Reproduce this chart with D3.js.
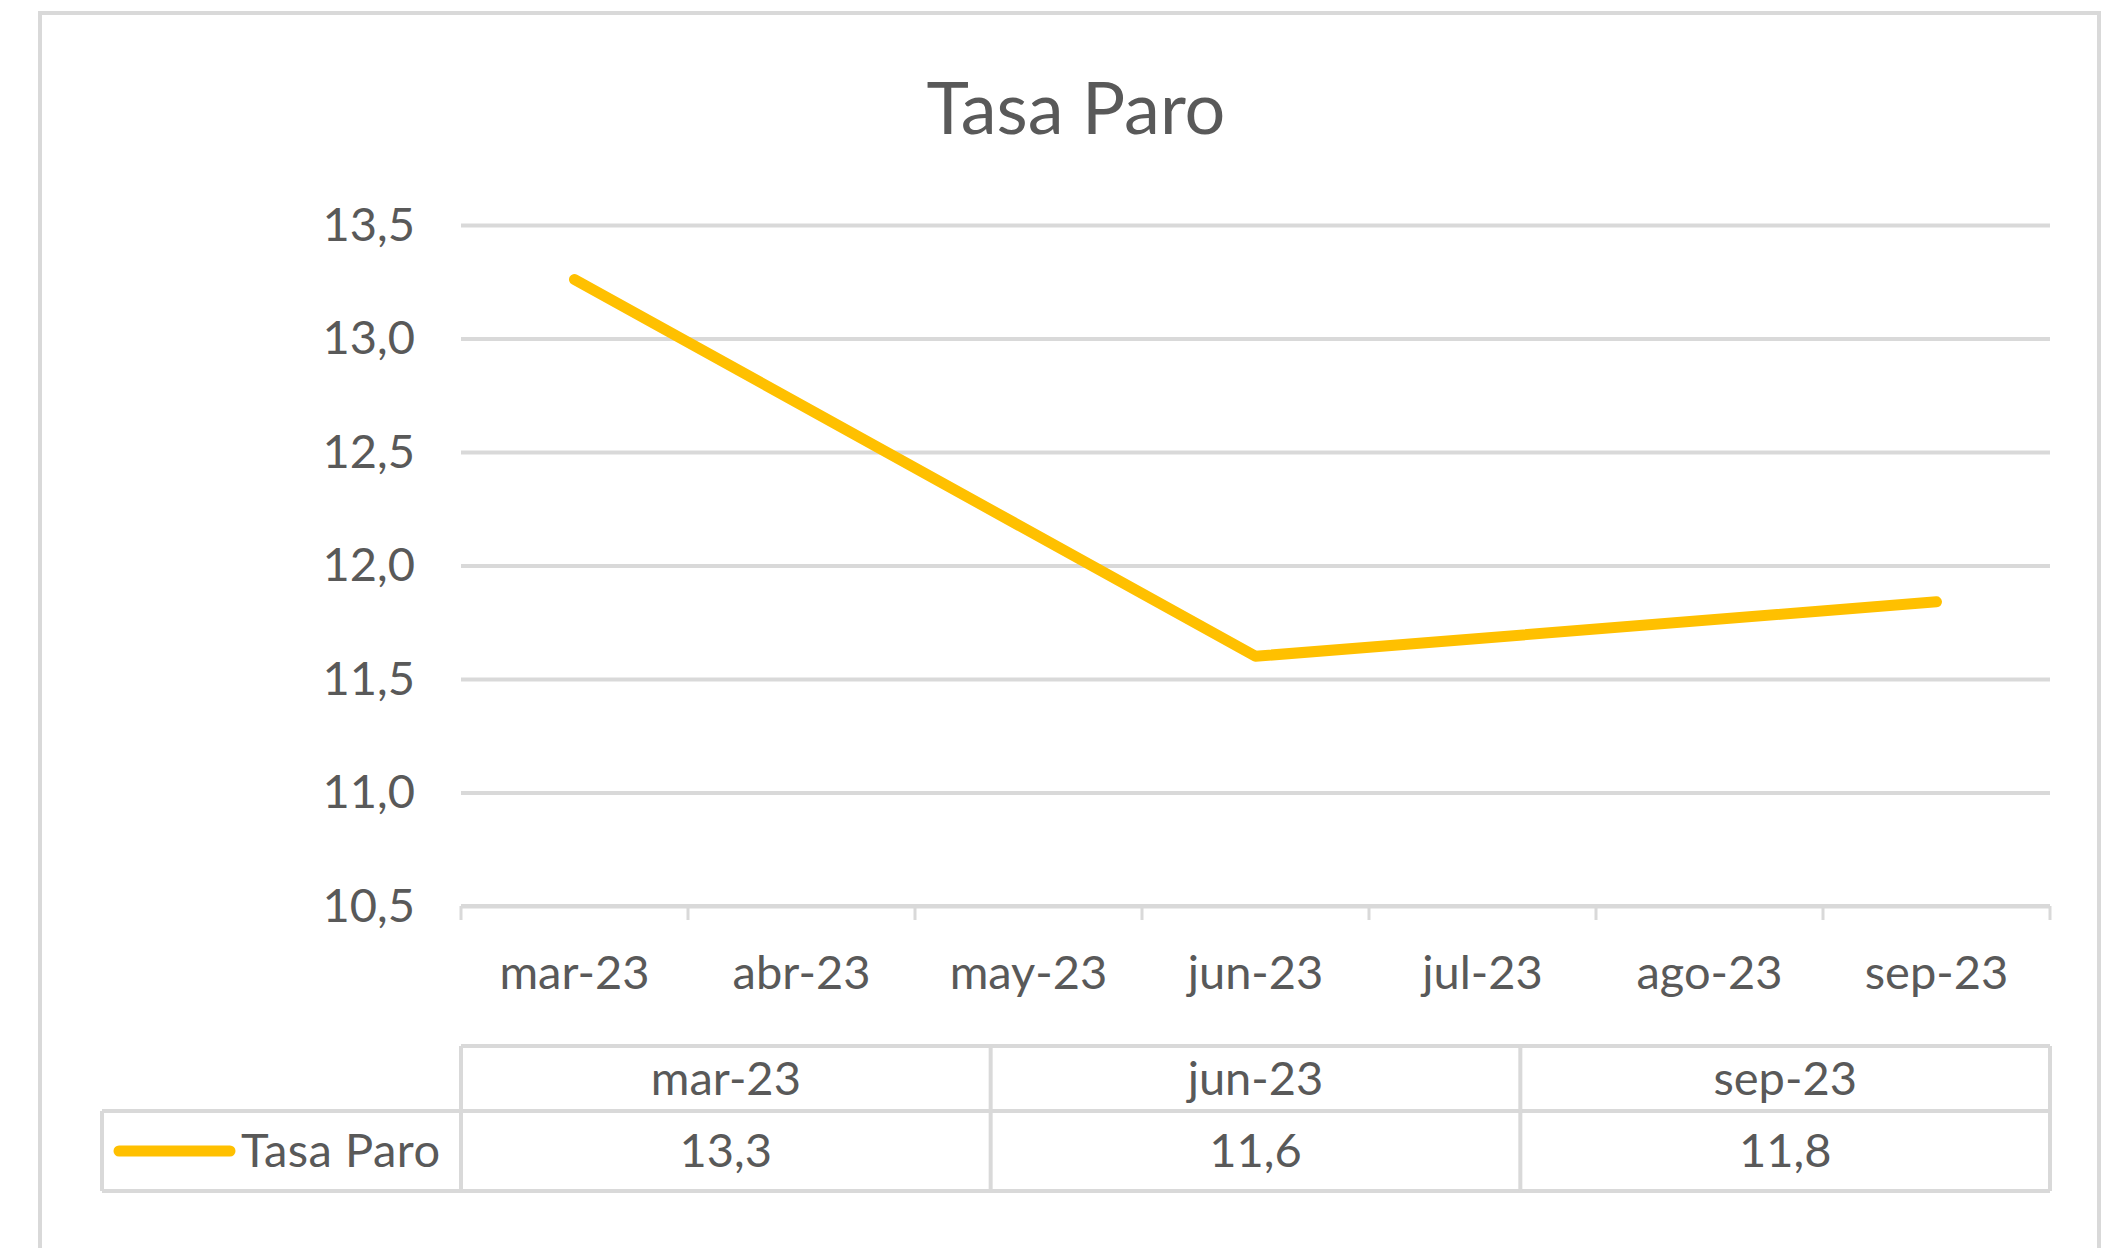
<!DOCTYPE html>
<html>
<head>
<meta charset="utf-8">
<script src="https://cdn.jsdelivr.net/npm/d3@7"></script>
<style>
  body { margin: 0; background: #fff; }
  svg { display: block; }
  text { font-family: Lato, "Open Sans", sans-serif; fill: #595959; }
</style>
</head>
<body>
<svg id="chart" width="2101" height="1248"></svg>
<script>
// chart data
const title = "Tasa Paro";
const seriesName = "Tasa Paro";
const months = ["mar-23", "abr-23", "may-23", "jun-23", "jul-23", "ago-23", "sep-23"];
const pointMonths = ["mar-23", "jun-23", "sep-23"];
const pointValues = [13.26, 11.6, 11.84];
const yTicks = [10.5, 11.0, 11.5, 12.0, 12.5, 13.0, 13.5];

const plot = { left: 461, right: 2050, top: 225, bottom: 906 };
const table = { left: 102, headTop: 1046, rowTop: 1111, bottom: 1191 };
const grey = "#d9d9d9";
const accent = "#ffc000";
const labelSize = "47px";

const es = d3.formatLocale({ decimal: ",", thousands: ".", grouping: [3], currency: ["", " €"] });
const fmt = es.format(".1f");

const data = pointMonths.map((m, i) => ({ month: m, value: pointValues[i] }));

const svg = d3.select("#chart");

// outer frame
svg.append("rect")
    .attr("x", 40).attr("y", 13)
    .attr("width", 2059).attr("height", 1260)
    .attr("fill", "#fff")
    .attr("stroke", grey)
    .attr("stroke-width", 4);

svg.append("text")
    .attr("x", 1076).attr("y", 134)
    .attr("text-anchor", "middle")
    .style("font-size", "72px")
    .text(title);

const x = d3.scaleBand()
    .domain(months)
    .range([plot.left, plot.right])
    .paddingInner(0).paddingOuter(0);

const y = d3.scaleLinear()
    .domain([10.5, 13.5])
    .range([plot.bottom, plot.top]);

// y axis with gridlines
const yAxis = svg.append("g")
    .attr("transform", `translate(${plot.left},0)`)
    .call(d3.axisLeft(y)
        .tickValues(yTicks)
        .tickFormat(fmt)
        .tickSize(-(plot.right - plot.left))
        .tickPadding(46));
yAxis.select(".domain").remove();
yAxis.selectAll(".tick line")
    .attr("stroke", grey)
    .attr("stroke-width", 4);
yAxis.selectAll(".tick text")
    .style("font-size", labelSize)
    .attr("fill", "#595959");

// x axis: labels centred in bands, ticks at band edges
const xAxis = svg.append("g")
    .attr("transform", `translate(0,${plot.bottom})`)
    .call(d3.axisBottom(x).tickSize(0).tickPadding(50));
xAxis.select(".domain")
    .attr("stroke", grey)
    .attr("stroke-width", 4)
    .attr("d", `M${plot.left},0H${plot.right}`);
xAxis.selectAll(".tick text")
    .style("font-size", labelSize)
    .attr("fill", "#595959");

const edges = months.map(m => x(m)).concat([x(months[months.length - 1]) + x.bandwidth()]);
xAxis.selectAll("line.edge")
    .data(edges)
    .join("line")
    .attr("class", "edge")
    .attr("x1", d => d).attr("x2", d => d)
    .attr("y1", 0).attr("y2", 14)
    .attr("stroke", grey)
    .attr("stroke-width", 3);

// series line
const line = d3.line()
    .x(d => x(d.month) + x.bandwidth() / 2)
    .y(d => y(d.value));

svg.append("path")
    .datum(data)
    .attr("d", line)
    .attr("fill", "none")
    .attr("stroke", accent)
    .attr("stroke-width", 11)
    .attr("stroke-linecap", "round")
    .attr("stroke-linejoin", "round");

// data table
const tx = d3.scaleBand()
    .domain(pointMonths)
    .range([plot.left, plot.right]);

const tg = svg.append("g");
const lineAttrs = sel => sel.attr("stroke", grey).attr("stroke-width", 4).attr("fill", "none");

tg.append("path")
    .attr("d", `M${plot.left},${table.headTop}H${plot.right}`
        + `M${table.left},${table.rowTop}H${plot.right}`
        + `M${table.left},${table.bottom}H${plot.right}`
        + `M${table.left},${table.rowTop}V${table.bottom}`)
    .call(lineAttrs);

tg.selectAll("line.col")
    .data(pointMonths.map(m => tx(m)).concat([plot.right]))
    .join("line")
    .attr("class", "col")
    .attr("x1", d => d).attr("x2", d => d)
    .attr("y1", table.headTop).attr("y2", table.bottom)
    .call(lineAttrs);

tg.selectAll("text.head")
    .data(pointMonths)
    .join("text")
    .attr("class", "head")
    .attr("x", d => tx(d) + tx.bandwidth() / 2)
    .attr("y", (table.headTop + table.rowTop) / 2)
    .attr("dy", "0.35em")
    .attr("text-anchor", "middle")
    .style("font-size", labelSize)
    .text(d => d);

tg.selectAll("text.val")
    .data(data)
    .join("text")
    .attr("class", "val")
    .attr("x", d => tx(d.month) + tx.bandwidth() / 2)
    .attr("y", (table.rowTop + table.bottom) / 2)
    .attr("dy", "0.35em")
    .attr("text-anchor", "middle")
    .style("font-size", labelSize)
    .text(d => fmt(d.value));

// legend key in the table
const ly = (table.rowTop + table.bottom) / 2;
tg.append("line")
    .attr("x1", 119).attr("x2", 230)
    .attr("y1", ly).attr("y2", ly)
    .attr("stroke", accent)
    .attr("stroke-width", 11)
    .attr("stroke-linecap", "round");
tg.append("text")
    .attr("x", 241).attr("y", ly)
    .attr("dy", "0.35em")
    .style("font-size", labelSize)
    .style("letter-spacing", "0.5px")
    .text(seriesName);
</script>
</body>
</html>
